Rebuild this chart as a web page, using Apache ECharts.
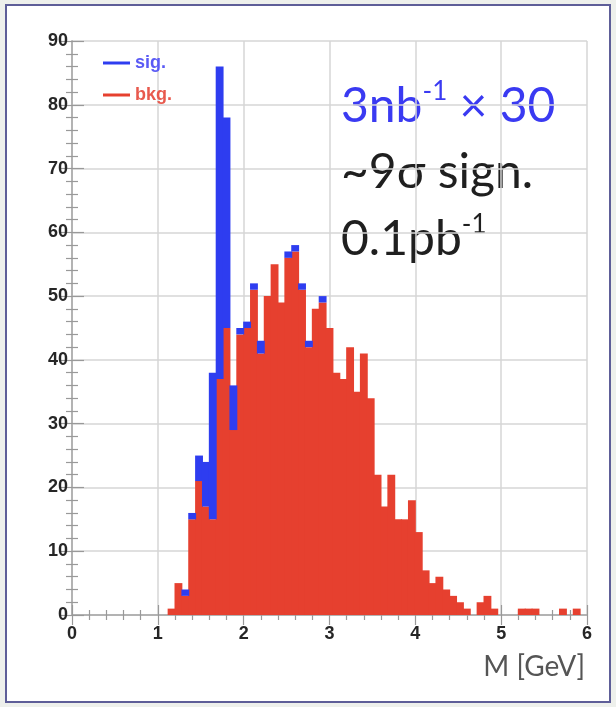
<!DOCTYPE html>
<html>
<head>
<meta charset="utf-8">
<script src="https://cdn.jsdelivr.net/npm/echarts@6/dist/echarts.min.js"></script>
<style>
  html, body { margin: 0; padding: 0; background: #eef0ec; }
  #frame { position: absolute; left: 5px; top: 4px; width: 602px; height: 695px; background: #fff; border: 2px solid #5e5e98; }
  #chart { position: absolute; left: 0; top: 0; width: 616px; height: 707px; }
</style>
</head>
<body>
<div id="frame"></div>
<div id="chart"></div>
<script>
// histogram: 0.08 GeV bins, first bin starts at 1.12 GeV
const binStart = 1.12;
const binWidth = 0.08;
const bkg = [1, 5, 3, 15, 21, 17, 15, 37, 45, 29,
             44, 45, 51, 41, 50, 55, 49, 56, 57, 51,
             42, 48, 49, 45, 38, 37, 42, 35, 41, 34,
             22, 17, 22, 15, 15, 18, 13, 7, 5, 6,
             4, 3, 2, 1, 0, 2, 3, 1, 0, 0,
             0, 1, 1, 1, 0, 0, 0, 1, 0, 1];
const sig = [0, 0, 1, 1, 4, 7, 23, 49, 33, 7,
             1, 1, 1, 2, 0, 0, 0, 1, 1, 1,
             1, 0, 1, 0, 0, 0, 0, 0, 0, 0,
             0, 0, 0, 0, 0, 0, 0, 0, 0, 0,
             0, 0, 0, 0, 0, 0, 0, 0, 0, 0,
             0, 0, 0, 0, 0, 0, 0, 0, 0, 0];
const xTicks = [0, 1, 2, 3, 4, 5, 6];
const yTicks = [0, 10, 20, 30, 40, 50, 60, 70, 80, 90];

const red = '#e6402f';
const blue = '#2e3df0';

const bkgData = bkg.map((v, i) => {
  const lo = +(binStart + i * binWidth).toFixed(2);
  return [lo, +(lo + binWidth).toFixed(2), 0, v];
});
const sigData = sig.map((v, i) => {
  const lo = +(binStart + i * binWidth).toFixed(2);
  return [lo, +(lo + binWidth).toFixed(2), bkg[i], bkg[i] + v];
});

function renderBin(params, api) {
  if (api.value(3) <= api.value(2)) return;
  const top = api.coord([api.value(0), api.value(3)]);
  const bot = api.coord([api.value(1), api.value(2)]);
  const color = api.visual('color');
  // a little overlap so neighbouring bins don't show seams
  return {
    type: 'rect',
    shape: { x: top[0] - 0.5, y: top[1], width: bot[0] - top[0] + 1, height: bot[1] - top[1] },
    style: { fill: color }
  };
}

const tickColor = '#999';
const labelStyle = { color: '#262626', fontSize: 18, fontWeight: 'bold', fontFamily: 'Liberation Sans' };

function xAxis(pos, main) {
  return {
    type: 'value', min: xTicks[0], max: xTicks[xTicks.length - 1], interval: 1, position: pos,
    axisLine: { show: true, lineStyle: { color: '#b0b0b0', width: 1.5 } },
    axisTick: { show: true, inside: true, length: 10, lineStyle: { color: tickColor, width: 1.2 } },
    minorTick: { show: true, splitNumber: 5, length: 5, lineStyle: { color: tickColor, width: 1.2 } },
    splitLine: { show: main, lineStyle: { color: '#d6d6d6', width: 1.5 } },
    axisLabel: Object.assign({ show: main, margin: 10 }, labelStyle)
  };
}
function yAxis(pos, main) {
  return {
    type: 'value', min: yTicks[0], max: yTicks[yTicks.length - 1], interval: 10, position: pos,
    axisLine: { show: true, lineStyle: { color: '#b0b0b0', width: 1.5 } },
    axisTick: { show: true, inside: true, length: 12, lineStyle: { color: tickColor, width: 1.2 } },
    minorTick: { show: true, splitNumber: 5, length: 6, lineStyle: { color: tickColor, width: 1.2 } },
    splitLine: { show: main, lineStyle: { color: '#d6d6d6', width: 1.5 } },
    axisLabel: Object.assign({ show: main, margin: 4 }, labelStyle)
  };
}

const big = { fontSize: 48, lineHeight: 52, fontFamily: 'Lato', verticalAlign: 'bottom' };
const sup = { fontSize: 26, lineHeight: 28, fontFamily: 'Lato', verticalAlign: 'top' };

const chart = echarts.init(document.getElementById('chart'));
chart.setOption({
  backgroundColor: 'transparent',
  animation: false,
  grid: { left: 72, right: 29, top: 41, bottom: 92 },
  xAxis: [xAxis('bottom', true), xAxis('top', false)],
  yAxis: [yAxis('left', true), yAxis('right', false)],
  legend: {
    orient: 'vertical', left: 98, top: 49, icon: 'rect',
    itemWidth: 27, itemHeight: 3, itemGap: 14, selectedMode: false,
    textStyle: { fontSize: 18, fontWeight: 'bold', fontFamily: 'Liberation Sans' },
    data: [
      { name: 'sig.', textStyle: { color: '#5a5af5' } },
      { name: 'bkg.', textStyle: { color: '#e8594d' } }
    ]
  },
  graphic: [
    {
      type: 'text', x: 341, y: 79,
      style: {
        text: '{a|3nb}{s|-1}{a| × 30}',
        verticalAlign: 'top',
        rich: {
          a: Object.assign({ fill: '#3a3af2' }, big),
          s: Object.assign({ fill: '#3a3af2' }, sup)
        }
      }
    },
    {
      type: 'text', x: 341, y: 147,
      style: { text: '~9σ sign.', fontSize: 48, lineHeight: 52, fontFamily: 'Lato', fill: '#1f1f1f', verticalAlign: 'top' }
    },
    {
      type: 'text', x: 341, y: 212,
      style: {
        text: '{a|0.1pb}{s|-1}',
        verticalAlign: 'top',
        rich: {
          a: Object.assign({ fill: '#1f1f1f' }, big),
          s: Object.assign({ fill: '#1f1f1f' }, sup)
        }
      }
    },
    {
      type: 'text', x: 585, y: 667,
      style: { text: 'M [GeV]', fontSize: 28, fontFamily: 'Lato', fill: '#555', align: 'right', verticalAlign: 'middle' }
    }
  ],
  series: [
    {
      name: 'bkg.', type: 'custom', renderItem: renderBin,
      itemStyle: { color: red }, encode: { x: [0, 1], y: [2, 3] }, data: bkgData, z: 3
    },
    {
      name: 'sig.', type: 'custom', renderItem: renderBin,
      itemStyle: { color: blue }, encode: { x: [0, 1], y: [2, 3] }, data: sigData, z: 4
    }
  ]
});
</script>
</body>
</html>
